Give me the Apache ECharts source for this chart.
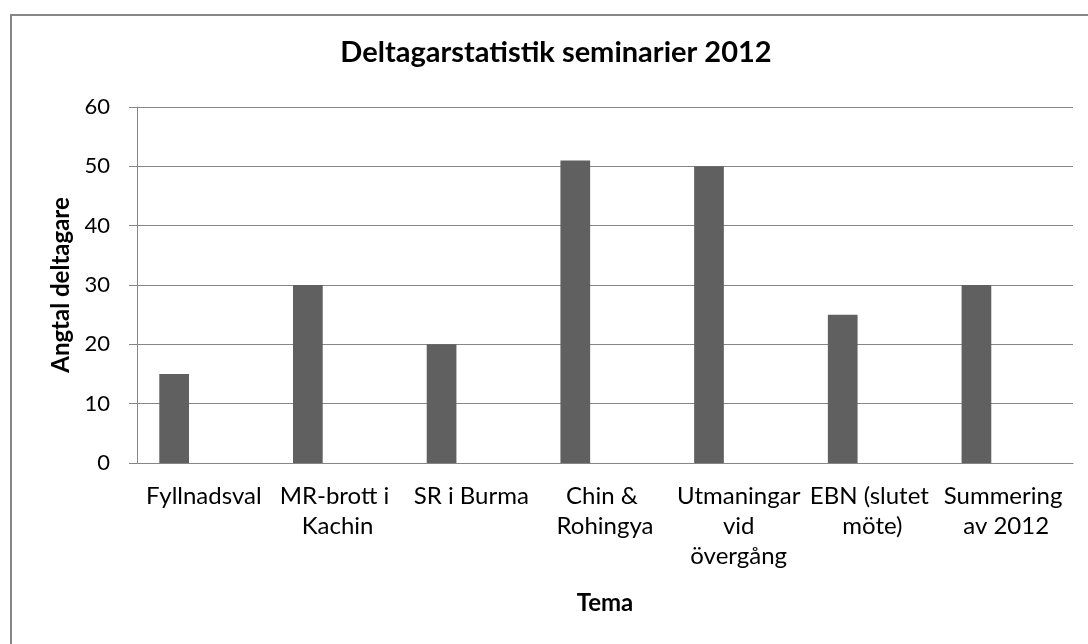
<!DOCTYPE html>
<html>
<head>
<meta charset="utf-8">
<script src="https://cdn.jsdelivr.net/npm/echarts@6/dist/echarts.min.js"></script>
<style>
  html,body{margin:0;padding:0;background:#fff}
  #chart{width:1088px;height:644px}
</style>
</head>
<body>
<div id="chart"></div>
<script>
// data
var categories = ['Fyllnadsval', 'MR-brott i Kachin', 'SR i Burma', 'Chin & Rohingya',
                  'Utmaningar vid övergång', 'EBN (slutet möte)', 'Summering av 2012'];
var deltagare = [15, 30, 20, 51, 50, 25, 30];
// the original sheet had two more (empty) series next to it, which is why bars sit left
var tomSerie1 = [];
var tomSerie2 = [];
var yTicks = { min: 0, max: 60, interval: 10 };

var gray = '#868686';
var font = 'Lato, "Open Sans", sans-serif';

var chart = echarts.init(document.getElementById('chart'), null, {renderer:'canvas'});
chart.setOption({
  animation: false,
  title: {
    text: 'Deltagarstatistik seminarier 2012',
    left: 556,
    top: 38,
    textAlign: 'center',
    padding: 0,
    textStyle: { fontFamily: font, fontSize: 29, fontWeight: 'bold', color: '#000' }
  },
  graphic: [{
    type: 'rect', silent: true,
    shape: { x: 11, y: 15, width: 1200, height: 800 },
    style: { fill: 'none', stroke: gray, lineWidth: 2 }
  }],
  grid: { left: 137, right: 15, top: 107, bottom: 181, containLabel: false },
  xAxis: {
    type: 'category',
    data: categories,
    name: 'Tema',
    nameLocation: 'middle',
    nameGap: 128,
    nameTextStyle: { fontFamily: font, fontSize: 24, fontWeight: 'bold', color: '#000' },
    axisLine: { show: true, lineStyle: { color: gray, width: 1 } },
    axisTick: { show: false },
    axisLabel: {
      interval: 0, margin: 18, fontFamily: font, fontSize: 24, color: '#000',
      width: 128, overflow: 'break', lineHeight: 30, align: 'center'
    }
  },
  yAxis: {
    type: 'value',
    min: yTicks.min, max: yTicks.max, interval: yTicks.interval,
    name: 'Angtal deltagare',
    nameLocation: 'middle',
    nameGap: 62,
    nameRotate: 90,
    nameTextStyle: { fontFamily: font, fontSize: 24, fontWeight: 'bold', color: '#000' },
    axisLine: { show: true, lineStyle: { color: gray, width: 1 } },
    axisTick: { show: true, length: 8, lineStyle: { color: gray } },
    axisLabel: { margin: 27, fontFamily: font, fontSize: 22, color: '#000' },
    splitLine: { show: true, lineStyle: { color: gray, width: 1 } }
  },
  series: [
    { name: 'Deltagare', type: 'bar', data: deltagare, barGap: '0%', barCategoryGap: '33.33%',
      itemStyle: { color: '#606060' } },
    { name: 'Serie 2', type: 'bar', data: tomSerie1, barGap: '0%', barCategoryGap: '33.33%' },
    { name: 'Serie 3', type: 'bar', data: tomSerie2, barGap: '0%', barCategoryGap: '33.33%' }
  ]
});
</script>
</body>
</html>
